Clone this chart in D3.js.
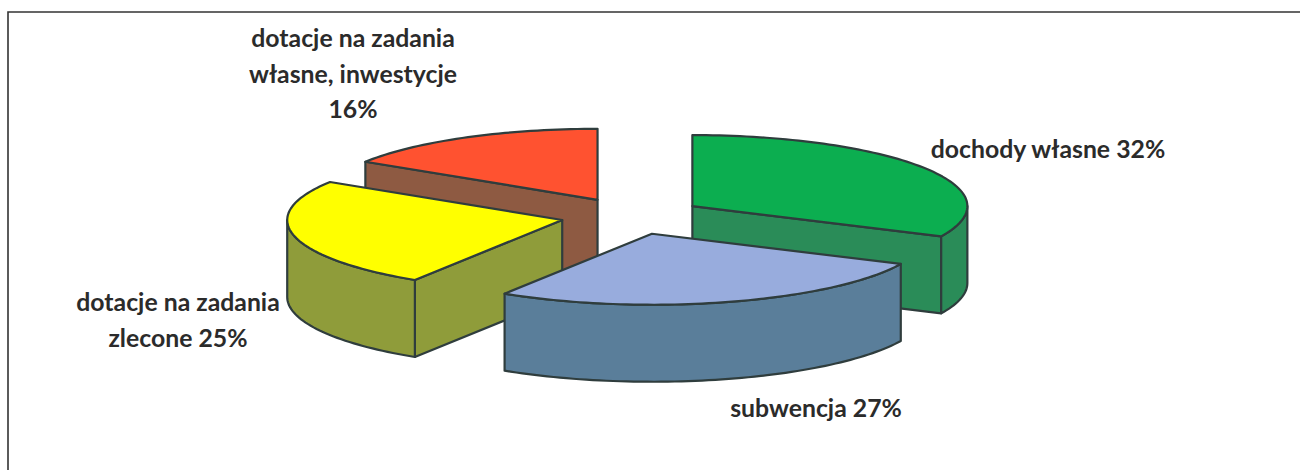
<!DOCTYPE html>
<html lang="pl">

<head>
	<meta charset="utf-8">
	<title> dochody </title>
	<script src="https://d3js.org/d3.v7.min.js"></script>
	<style type="text/css">
		html, body { margin: 0; padding: 0; background: #fff; overflow: hidden; }
		svg { display: block; }
		text { font-family: Lato, "Open Sans", sans-serif; font-weight: 700; font-size: 24.8px; fill: #2b2b2b; text-anchor: middle; }
	</style>
</head>

<body>
	<svg id="chart" width="1300" height="470"></svg>

	<script type="text/javascript">
	// data, clockwise from 12 o'clock
	var names = ["dochody własne", "subwencja", "dotacje na zadania zlecone", "dotacje na zadania własne, inwestycje"]
	var shares = [32, 27, 25, 16]
	var labelLines = [
		["dochody własne 32%"],
		["subwencja 27%"],
		["dotacje na zadania", "zlecone 25%"],
		["dotacje na zadania", "własne, inwestycje", "16%"]
	]

	// colors
	var topColors = ["#0cae50", "#98acdd", "#ffff00", "#ff5230"]
	var wallColors = ["#2a8c58", "#5a7e9a", "#8f9c3a", "#8e5a42"]
	var edge = "#2f3d3d"

	// label spots: centre x, first baseline
	var labelSpots = [[1048, 158], [816, 417], [178, 311], [353, 47]]
	var lineStep = 35.5

	// pie geometry
	var width = 1300, height = 470
	var cx = 632, cy = 216
	var rx = 275, ry = 71
	var explode = 0.26   // in radii
	var depth = 77
	var front = [Math.PI / 2, Math.PI * 3 / 2]  // part of the rim facing the viewer

	// unit circle -> page
	var x = d3.scaleLinear().domain([-1, 1]).range([cx - rx, cx + rx])
	var y = d3.scaleLinear().domain([-1, 1]).range([cy - ry, cy + ry])

	var svg = d3.select("#chart")

	// frame, cut off by the scan on right and bottom
	svg.append("path")
		.attr("d", "M1300,12L8,12L8,470")
		.attr("fill", "none")
		.attr("stroke", "#333")
		.attr("stroke-width", 1.6)

	var pie = d3.pie().sort(null).value(d => d)
	var slices = pie(shares).map((d, i) => {
		var mid = (d.startAngle + d.endAngle) / 2
		return {
			i: i,
			a0: d.startAngle,
			a1: d.endAngle,
			ox: explode * Math.sin(mid),
			oy: -explode * Math.cos(mid)
		}
	})

	// point on a slice, r=0 is its apex, drop in px below the top face
	function pt(s, angle, r, drop) {
		return [x(s.ox + r * Math.sin(angle)), y(s.oy - r * Math.cos(angle)) + drop]
	}

	function rim(s, a0, a1, drop) {
		var n = Math.max(2, Math.ceil((a1 - a0) * 40))
		return d3.range(n + 1).map(k => pt(s, a0 + (a1 - a0) * k / n, 1, drop))
	}

	var line = d3.line()

	function wall(s, angle) {
		return line([pt(s, angle, 0, 0), pt(s, angle, 1, 0), pt(s, angle, 1, depth), pt(s, angle, 0, depth)]) + "Z"
	}

	function outer(s) {
		var a0 = Math.max(s.a0, front[0]), a1 = Math.min(s.a1, front[1])
		if (a1 <= a0) return null
		return line(rim(s, a0, a1, 0).concat(rim(s, a0, a1, depth).reverse())) + "Z"
	}

	// painter order: back slices first
	var order = [3, 2, 0, 1]

	var groups = svg.selectAll("g.slice")
		.data(order.map(i => slices[i]))
		.enter()
		.append("g")
		.attr("class", "slice")
		.attr("stroke", edge)
		.attr("stroke-width", 2.2)
		.attr("stroke-linejoin", "round")

	groups.each(function(s) {
		var g = d3.select(this)
		var faces = []
		if (Math.sin(s.a0) < -1e-6) faces.push(wall(s, s.a0))
		if (Math.sin(s.a1) > 1e-6) faces.push(wall(s, s.a1))
		if (outer(s)) faces.push(outer(s))
		faces.forEach(f => g.append("path").attr("d", f).attr("fill", wallColors[s.i]))

		g.append("path")
			.attr("d", line([pt(s, s.a0, 0, 0)].concat(rim(s, s.a0, s.a1, 0))) + "Z")
			.attr("fill", topColors[s.i])
	})

	// labels
	var labels = svg.selectAll("text")
		.data(labelLines)
		.enter()
		.append("text")
		.attr("transform", (d, i) => "translate(" + labelSpots[i][0] + "," + labelSpots[i][1] + ")")

	labels.selectAll("tspan")
		.data(d => d)
		.enter()
		.append("tspan")
		.attr("x", 0)
		.attr("y", (d, i) => i * lineStep)
		.text(d => d)
	</script>
</body>
</html>
